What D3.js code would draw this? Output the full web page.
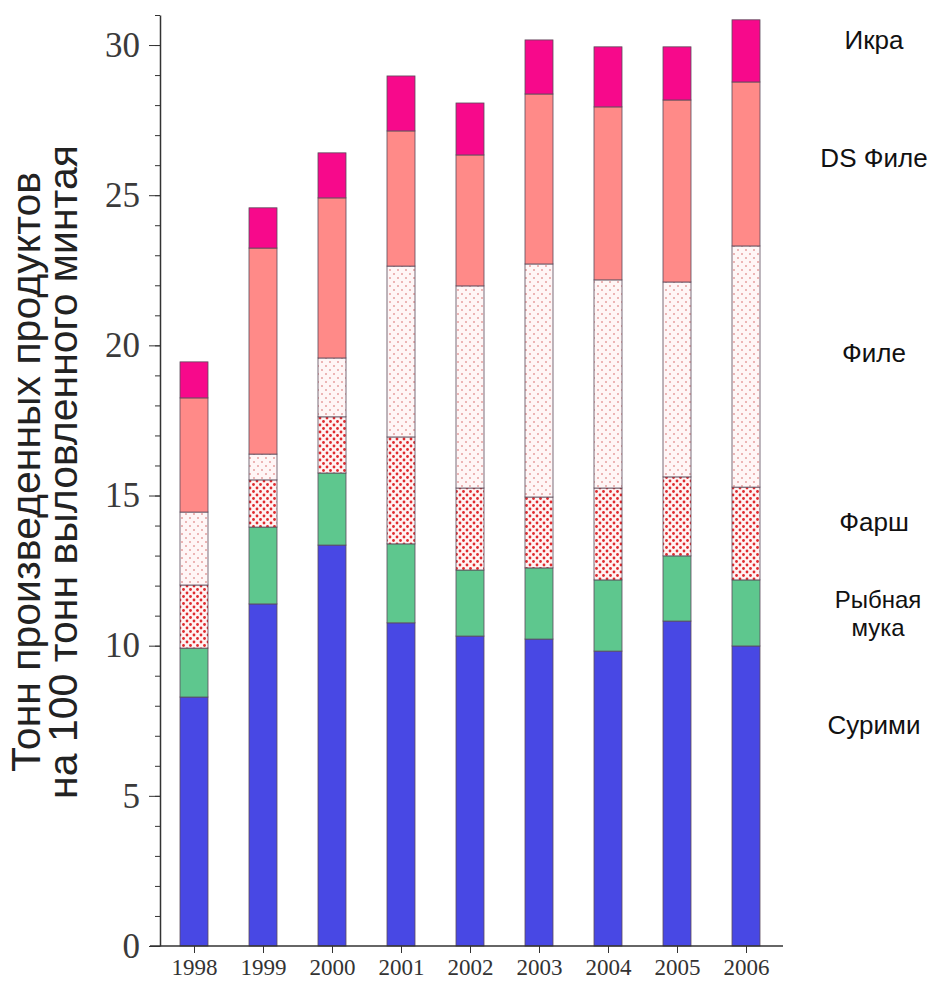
<!DOCTYPE html>
<html>
<head>
<meta charset="utf-8">
<title>Pollock products</title>
<script src="https://d3js.org/d3.v7.min.js"></script>
<style>
  body { margin: 0; background: #fff; }
  svg { display: block; }
</style>
</head>
<body>
<div class="chart"></div>
<script>
// years on the x axis
var years = ["1998", "1999", "2000", "2001", "2002", "2003", "2004", "2005", "2006"];

// tonnes of product per 100 t of pollock, one array per layer (bottom to top)
var surimi = [8.29, 11.39, 13.35, 10.76, 10.32, 10.22, 9.82, 10.82, 9.99];
var fishmeal = [1.63, 2.56, 2.40, 2.63, 2.20, 2.37, 2.37, 2.17, 2.20];
var farsh = [2.10, 1.57, 1.87, 3.56, 2.73, 2.36, 3.06, 2.63, 3.09];
var fillet = [2.43, 0.86, 1.96, 5.69, 6.73, 7.76, 6.93, 6.49, 8.03];
var dsFillet = [3.80, 6.86, 5.33, 4.50, 4.36, 5.66, 5.76, 6.06, 5.46];
var roe = [1.20, 1.34, 1.50, 1.83, 1.73, 1.80, 2.00, 1.77, 2.07];

var layerNames = ["Сурими", "Рыбная мука", "Фарш", "Филе", "DS Филе", "Икра"];
var yTicks = [0, 5, 10, 15, 20, 25, 30];

var width = 937, height = 988;

var svg = d3.select(".chart")
  .append("svg")
  .attr("width", width)
  .attr("height", height);

var defs = svg.append("defs");

// red dots (farsh)
var p1 = defs.append("pattern")
  .attr("id", "farsh").attr("patternUnits", "userSpaceOnUse")
  .attr("width", 7).attr("height", 7);
p1.append("rect").attr("width", 7).attr("height", 7).attr("fill", "#fff3f3");
p1.append("circle").attr("cx", 1.5).attr("cy", 1.5).attr("r", 1.4).attr("fill", "#df2a2e");
p1.append("circle").attr("cx", 5).attr("cy", 5).attr("r", 1.4).attr("fill", "#df2a2e");

// sparse pale dots (fillet)
var p2 = defs.append("pattern")
  .attr("id", "fillet").attr("patternUnits", "userSpaceOnUse")
  .attr("width", 8).attr("height", 8);
p2.append("rect").attr("width", 8).attr("height", 8).attr("fill", "#fff6f6");
p2.append("circle").attr("cx", 2).attr("cy", 2).attr("r", 1).attr("fill", "#e6a0a0");
p2.append("circle").attr("cx", 6).attr("cy", 6).attr("r", 1).attr("fill", "#e6a0a0");

var fills = ["#4848e4", "#5ec78e", "url(#farsh)", "url(#fillet)", "#ff8a88", "#f7098b"];

var x = d3.scalePoint()
  .domain(years)
  .range([194, 746]);

var y = d3.scaleLinear()
  .domain([0, 31])
  .range([946, 15]);

var barW = 28;

var rows = years.map(function (yr, i) {
  return { year: yr, s0: surimi[i], s1: fishmeal[i], s2: farsh[i], s3: fillet[i], s4: dsFillet[i], s5: roe[i] };
});

var stack = d3.stack().keys(["s0", "s1", "s2", "s3", "s4", "s5"]);
var series = stack(rows);

svg.selectAll("g.layer")
  .data(series)
  .enter()
  .append("g")
  .attr("class", "layer")
  .attr("fill", function (d, i) { return fills[i]; })
  .selectAll("rect")
  .data(function (d) { return d; })
  .enter()
  .append("rect")
  .attr("x", function (d) { return x(d.data.year) - barW / 2; })
  .attr("width", barW)
  .attr("y", function (d) { return y(d[1]); })
  .attr("height", function (d) { return y(d[0]) - y(d[1]); })
  .attr("stroke", "#5a4a5a")
  .attr("stroke-width", 0.8);

// y axis: minor ticks every unit, major every 5
svg.append("g")
  .attr("transform", "translate(160,0)")
  .call(d3.axisLeft(y).tickValues(d3.range(0, 32)).tickSize(5).tickFormat(""))
  .call(function (g) { g.select(".domain").remove(); })
  .selectAll("line").attr("stroke", "#333");

var yAxis = svg.append("g")
  .attr("transform", "translate(160,0)")
  .call(d3.axisLeft(y).tickValues(yTicks).tickSize(11).tickSizeOuter(0).tickPadding(9));
yAxis.select(".domain").attr("stroke", "#333").attr("stroke-width", 1.5);
yAxis.selectAll("line").attr("stroke", "#333");
yAxis.selectAll("text")
  .attr("font-family", "'Liberation Serif', 'Times New Roman', serif")
  .attr("font-size", 35)
  .attr("fill", "#3a3a3a");

// x axis
svg.append("line")
  .attr("x1", 150).attr("x2", 783)
  .attr("y1", y(0)).attr("y2", y(0))
  .attr("stroke", "#333").attr("stroke-width", 1.5);

var xAxis = svg.append("g")
  .attr("transform", "translate(0," + y(0) + ")")
  .call(d3.axisBottom(x).tickSize(7).tickPadding(6));
xAxis.select(".domain").remove();
xAxis.selectAll("line").attr("stroke", "#333");
xAxis.selectAll("text")
  .attr("font-family", "'Liberation Serif', 'Times New Roman', serif")
  .attr("font-size", 23)
  .attr("fill", "#333");

// y title
var title = svg.append("text")
  .attr("transform", "translate(0,472) rotate(-90)")
  .attr("text-anchor", "middle")
  .attr("font-family", "'Liberation Sans', Arial, sans-serif")
  .attr("font-size", 41)
  .attr("fill", "#222");
title.append("tspan").attr("x", 0).attr("y", 40).text("Тонн произведенных продуктов");
title.append("tspan").attr("x", 0).attr("y", 77).text("на 100 тонн выловленного минтая");

// layer labels on the right
var labelY = [725, 605, 522, 353, 158, 40];
var labels = svg.append("g")
  .attr("font-family", "'Liberation Sans', Arial, sans-serif")
  .attr("font-size", 26)
  .attr("fill", "#111")
  .attr("text-anchor", "middle");

layerNames.forEach(function (name, i) {
  if (name === "Рыбная мука") {
    labels.append("text").attr("x", 878).attr("y", labelY[i] + 3)
      .attr("font-size", 24).text("Рыбная");
    labels.append("text").attr("x", 878).attr("y", labelY[i] + 31)
      .attr("font-size", 24).text("мука");
  } else {
    labels.append("text").attr("x", 874).attr("y", labelY[i] + 9).text(name);
  }
});
</script>
</body>
</html>
